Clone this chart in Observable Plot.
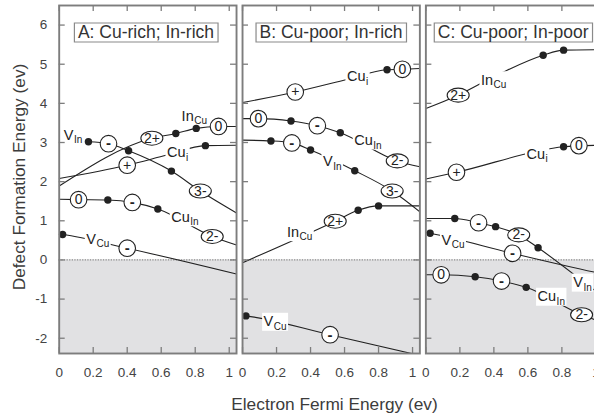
<!DOCTYPE html>
<html><head><meta charset="utf-8">
<script src="https://cdn.jsdelivr.net/npm/d3@7"></script>
<script src="https://cdn.jsdelivr.net/npm/@observablehq/plot@0.6"></script>
<style>
html, body { margin:0; padding:0; background:#fff; overflow:hidden; }
#wrap { position:relative; width:594px; height:418px; overflow:hidden; }
#wrap svg { max-width:none !important; position:absolute; left:0; top:0; }
.lab { position:absolute; font-family:"Liberation Sans", Arial, Helvetica, sans-serif; font-size:17.3px; color:#3c3c3c; white-space:nowrap; line-height:1; }
#ylab { left:20px; top:177px; transform:translate(-50%,-50%) rotate(-90deg); }
#xlab { left:334.5px; top:405px; transform:translate(-50%,-50%); }
</style></head>
<body>
<div id="wrap"><div id="chart"></div>
<div class="lab" id="ylab">Defect Formation Energy (ev)</div>
<div class="lab" id="xlab">Electron Fermi Energy (ev)</div>
</div>
<script>
// ---------- data ----------
const panels = ["A", "B", "C"];
const panelTitles = ["A: Cu-rich; In-rich", "B: Cu-poor; In-rich", "C: Cu-poor; In-poor"];
const titlePos = [[0.11, 5.81], [0.10, 5.81], [0.07, 5.81]];
const xDomain = [0, 1.043];
const yDomain = [-2.39, 6.5];
const xTicks = [0, 0.2, 0.4, 0.6, 0.8, 1];
const yTicks = [-2, -1, 0, 1, 2, 3, 4, 5, 6];

// Panel A curves [x, energy]
const A_VIn  = [[0.172,3.02],[0.29,2.97],[0.408,2.79],[0.66,2.27],[0.83,1.76],[1.043,1.20]];
const A_InCu = [[0,1.89],[0.545,3.11],[0.686,3.23],[0.806,3.36],[0.937,3.41],[1.043,3.41]];
const A_Cui  = [[0,2.08],[0.40,2.42],[0.634,2.68],[0.86,2.92],[1.043,2.93]];
const A_CuIn = [[0,1.55],[0.114,1.54],[0.286,1.53],[0.43,1.47],[0.58,1.30],[0.90,0.60],[1.043,0.38]];
const A_VCu  = [[0,0.66],[0.02,0.65],[0.40,0.30],[1.043,-0.36]];
// Panel B curves
const B_Cui  = [[0,4.02],[0.31,4.29],[0.614,4.61],[0.85,4.86],[0.94,4.87],[1.043,4.89]];
const B_CuIn = [[0,3.61],[0.094,3.61],[0.285,3.55],[0.44,3.43],[0.575,3.25],[0.91,2.53],[1.043,2.38]];
const B_VIn  = [[0,3.06],[0.167,3.04],[0.29,2.99],[0.40,2.81],[0.66,2.28],[0.88,1.76],[1.043,1.23]];
const B_InCu = [[0,-0.07],[0.545,0.99],[0.68,1.27],[0.80,1.38],[1.043,1.38]];
const B_VCu  = [[0,-1.42],[0.02,-1.43],[0.515,-1.91],[1.043,-2.44]];
// Panel C curves
const C_InCu = [[0,3.87],[0.19,4.21],[0.445,4.78],[0.69,5.23],[0.81,5.36],[1.043,5.37]];
const C_Cui  = [[0,2.07],[0.18,2.24],[0.81,2.89],[0.90,2.92],[1.043,2.93]];
const C_VIn  = [[0,1.06],[0.17,1.06],[0.31,0.95],[0.41,0.85],[0.546,0.64],[0.66,0.31],[1.0,-0.80],[1.043,-0.94]];
const C_VCu  = [[0,0.70],[0.025,0.68],[0.51,0.17],[1.0,-0.32],[1.043,-0.36]];
const C_CuIn = [[0,-0.38],[0.09,-0.38],[0.29,-0.43],[0.445,-0.54],[0.59,-0.70],[0.916,-1.40],[1.043,-1.60]];

// transition points (filled dots)
const A_dots = [[0.172,3.02],[0.408,2.79],[0.66,2.27],[0.686,3.23],[0.806,3.36],[0.86,2.92],[0.286,1.53],[0.58,1.30],[0.02,0.65]];
const B_dots = [[0.85,4.86],[0.285,3.55],[0.575,3.25],[0.167,3.04],[0.40,2.81],[0.66,2.28],[0.68,1.27],[0.80,1.38],[0.02,-1.43]];
const C_dots = [[0.69,5.23],[0.81,5.36],[0.81,2.89],[0.17,1.06],[0.41,0.85],[0.66,0.31],[0.025,0.68],[0.29,-0.43],[0.59,-0.70]];

// charge-state markers
const A_charges = [[0.29,2.97,"-"],[0.83,1.76,"3-"],[0.545,3.11,"2+"],[0.937,3.41,"0"],[0.40,2.42,"+"],[0.114,1.54,"0"],[0.43,1.47,"-"],[0.90,0.60,"2-"],[0.40,0.30,"-"]];
const B_charges = [[0.31,4.29,"+"],[0.94,4.87,"0"],[0.094,3.61,"0"],[0.44,3.43,"-"],[0.91,2.53,"2-"],[0.29,2.99,"-"],[0.88,1.76,"3-"],[0.545,0.99,"2+"],[0.515,-1.91,"-"]];
const C_charges = [[0.19,4.21,"2+"],[0.18,2.24,"+"],[0.90,2.92,"0"],[0.31,0.95,"-"],[0.546,0.64,"2-"],[0.51,0.17,"-"],[0.09,-0.38,"0"],[0.445,-0.54,"-"],[0.916,-1.40,"2-"]];

// defect labels [x, energy, symbol, subscript]
const A_labels = [[0.027,3.18,"V","In"],[0.72,3.68,"In","Cu"],[0.634,2.74,"Cu","i"],[0.659,1.09,"Cu","In"],[0.159,0.53,"V","Cu"]];
const B_labels = [[0.614,4.68,"Cu","i"],[0.657,3.05,"Cu","In"],[0.473,2.51,"V","In"],[0.261,0.71,"In","Cu"],[0.124,-1.58,"V","Cu"]];
const C_labels = [[0.324,4.59,"In","Cu"],[0.592,2.70,"Cu","i"],[0.092,0.51,"V","Cu"],[0.867,-0.58,"V","In"],[0.657,-0.94,"Cu","In"]];

// ---------- layout ----------
const W = 603, H = 418;
const mL = 58.7, mR = 0.3, mT = 5, mB = 65, gap = 6;
const bandW = (W - mL - mR - 2 * gap) / 3;
const frameH = H - mT - mB;
const tickLen = 6;
const FONT = '"Liberation Sans", Arial, Helvetica, sans-serif';
const ink = "#222", frameCol = "#7d7d7d";
const LAB = 14.5, SUB = 10, TITLE = 17.5;

const ctx = document.createElement("canvas").getContext("2d");
function tw(s, size) { ctx.font = `${size}px "Liberation Sans", Arial, sans-serif`; return ctx.measureText(s).width; }
function rectSym(x0, y0, w, h) { return {draw(c) { c.rect(x0, y0, w, h); }}; }
function ellSym(rx, ry) {
  const k = 0.5523;
  return {draw(c) {
    c.moveTo(rx, 0);
    c.bezierCurveTo(rx, ry*k, rx*k, ry, 0, ry);
    c.bezierCurveTo(-rx*k, ry, -rx, ry*k, -rx, 0);
    c.bezierCurveTo(-rx, -ry*k, -rx*k, -ry, 0, -ry);
    c.bezierCurveTo(rx*k, -ry, rx, -ry*k, rx, 0);
    c.closePath();
  }};
}

const curveList = [["A","VIn",A_VIn],["A","InCu",A_InCu],["A","Cui",A_Cui],["A","CuIn",A_CuIn],["A","VCu",A_VCu],
  ["B","Cui",B_Cui],["B","CuIn",B_CuIn],["B","VIn",B_VIn],["B","InCu",B_InCu],["B","VCu",B_VCu],
  ["C","InCu",C_InCu],["C","Cui",C_Cui],["C","VIn",C_VIn],["C","VCu",C_VCu],["C","CuIn",C_CuIn]];
const curveRows = curveList.flatMap(([p, id, pts]) => pts.map(([x, y]) => ({panel: p, id: p + id, x, y})));
const dotRows = [["A",A_dots],["B",B_dots],["C",C_dots]].flatMap(([p, a]) => a.map(([x, y]) => ({panel: p, x, y})));
const chargeRows = [["A",A_charges],["B",B_charges],["C",C_charges]].flatMap(([p, a]) => a.map(([x, y, q]) => ({panel: p, x, y, q})));
const labelRows = [["A",A_labels],["B",B_labels],["C",C_labels]].flatMap(([p, a]) => a.map(([x, y, main, sub]) => {
  const mw = tw(main, LAB), sw = tw(sub, SUB);
  return {panel: p, x, y, main, sub, mw, w: mw + sw};
}));
const titleRows = panels.map((p, i) => ({panel: p, x: titlePos[i][0], y: titlePos[i][1], t: panelTitles[i], w: tw(panelTitles[i], TITLE)}));

const marks = [
  Plot.rect([{y1: yDomain[0], y2: 0}], {y1: "y1", y2: "y2", fill: "#e1e1e3"}),
  Plot.ruleY([0], {stroke: "#8c8c8c", strokeWidth: 1.3, strokeDasharray: "1.3,1.3"}),
  Plot.line(curveRows, {x: "x", y: "y", z: "id", fx: "panel", curve: "monotone-x", stroke: ink, strokeWidth: 1.1, clip: true}),
  ...labelRows.map(l => Plot.dot([l], {x: "x", y: "y", fx: "panel", symbol: rectSym(-1.5, -9, l.w + 3.5, 18), fill: "white", stroke: "none"})),
  ...labelRows.map(l => Plot.text([l], {x: "x", y: "y", fx: "panel", text: "main", textAnchor: "start", fontSize: LAB, fill: ink})),
  ...labelRows.map(l => Plot.text([l], {x: "x", y: "y", fx: "panel", text: "sub", textAnchor: "start", dx: l.mw + 0.5, dy: 4.8, fontSize: SUB, fill: ink})),
  Plot.dot(dotRows, {x: "x", y: "y", fx: "panel", r: 3.7, fill: ink, stroke: "none"}),
  Plot.dot(chargeRows.filter(d => d.q.length === 1), {x: "x", y: "y", fx: "panel", symbol: ellSym(8.3, 8.3), fill: "white", stroke: ink, strokeWidth: 1.1}),
  Plot.dot(chargeRows.filter(d => d.q.length > 1), {x: "x", y: "y", fx: "panel", symbol: ellSym(11, 7), fill: "white", stroke: ink, strokeWidth: 1.1}),
  Plot.text(chargeRows.filter(d => d.q !== "-"), {x: "x", y: "y", fx: "panel", text: "q", fontSize: 14, fill: ink}),
  Plot.text(chargeRows.filter(d => d.q === "-"), {x: "x", y: "y", fx: "panel", text: "q", fontSize: 15, fontWeight: "bold", fill: ink}),
  ...titleRows.map(t => Plot.dot([t], {x: "x", y: "y", fx: "panel", symbol: rectSym(-3.5, -9.5, t.w + 7.5, 19), fill: "white", stroke: "#8a8a8a", strokeWidth: 1.2})),
  Plot.text(titleRows, {x: "x", y: "y", fx: "panel", text: "t", textAnchor: "start", fontSize: TITLE, fill: "#333"}),
  Plot.frame({stroke: frameCol, strokeWidth: 1.9}),
  Plot.tickX(xTicks, {x: d => d, insetBottom: frameH - tickLen, stroke: frameCol, strokeWidth: 1.3}),
  Plot.tickX(xTicks, {x: d => d, insetTop: frameH - tickLen, stroke: frameCol, strokeWidth: 1.3}),
  Plot.tickY(yTicks, {y: d => d, insetRight: bandW - tickLen, stroke: frameCol, strokeWidth: 1.3}),
  Plot.tickY(yTicks, {y: d => d, insetLeft: bandW - tickLen, stroke: frameCol, strokeWidth: 1.3}),
  Plot.axisX({ticks: xTicks, tickSize: 0, tickPadding: 14, tickFormat: d => String(d), fontSize: 13.5, color: "#444", label: null}),
  Plot.axisY({ticks: yTicks, tickSize: 0, tickPadding: 12, tickFormat: d => String(d), fontSize: 13.5, color: "#444", label: null})
];

const chart = Plot.plot({
  width: W, height: H,
  marginLeft: mL, marginRight: mR, marginTop: mT, marginBottom: mB,
  style: {fontFamily: FONT, background: "white"},
  fx: {domain: panels, paddingInner: gap / (bandW + gap), paddingOuter: 0, round: false, axis: null, label: null},
  x: {domain: xDomain, label: null},
  y: {domain: yDomain, label: null},
  marks
});
document.getElementById("chart").appendChild(chart);
</script>
</body></html>
